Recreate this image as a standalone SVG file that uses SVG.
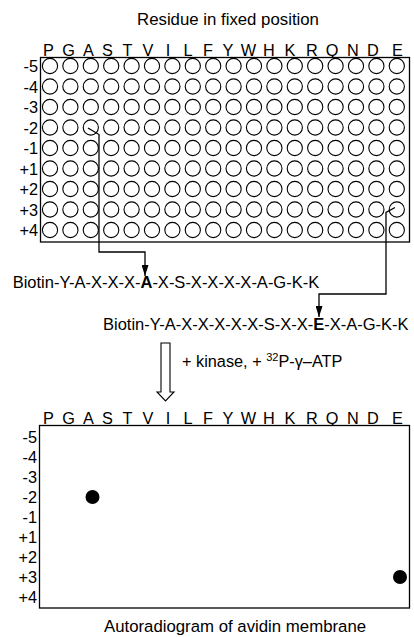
<svg xmlns="http://www.w3.org/2000/svg" xmlns:xlink="http://www.w3.org/1999/xlink" width="414" height="637" viewBox="0 0 414 637">
  <style>
    text { font-family: "Liberation Sans", Arial, sans-serif; fill: #000; }
    .title { font-size: 16.8px; text-anchor: middle; }
    .col { font-size: 16.3px; text-anchor: middle; }
    .row { font-size: 16.3px; text-anchor: end; }
    .pep { font-size: 16.5px; }
    .frame { fill: #fff; stroke: #000; stroke-width: 1.3; }
    .well { fill: #fff; stroke: #000; stroke-width: 1.1; }
    .wire { fill: none; stroke: #000; stroke-width: 1.3; }
    .spot { fill: #000; }
  </style>
  <defs>
    <marker id="head" markerUnits="userSpaceOnUse" markerWidth="11" markerHeight="7" refX="11" refY="3.5" orient="auto" viewBox="0 0 11 7">
      <path d="M0 0 L11 3.5 L0 7 Z" fill="#000"/>
    </marker>
    <g id="wellRow">
      <circle class="well" cx="50" cy="0" r="7.6"/>
      <circle class="well" cx="70.4" cy="0" r="7.6"/>
      <circle class="well" cx="90.8" cy="0" r="7.6"/>
      <circle class="well" cx="111.2" cy="0" r="7.6"/>
      <circle class="well" cx="131.6" cy="0" r="7.6"/>
      <circle class="well" cx="152" cy="0" r="7.6"/>
      <circle class="well" cx="172.4" cy="0" r="7.6"/>
      <circle class="well" cx="192.8" cy="0" r="7.6"/>
      <circle class="well" cx="213.2" cy="0" r="7.6"/>
      <circle class="well" cx="233.6" cy="0" r="7.6"/>
      <circle class="well" cx="254" cy="0" r="7.6"/>
      <circle class="well" cx="274.4" cy="0" r="7.6"/>
      <circle class="well" cx="294.8" cy="0" r="7.6"/>
      <circle class="well" cx="315.2" cy="0" r="7.6"/>
      <circle class="well" cx="335.6" cy="0" r="7.6"/>
      <circle class="well" cx="356" cy="0" r="7.6"/>
      <circle class="well" cx="376.4" cy="0" r="7.6"/>
      <circle class="well" cx="396.8" cy="0" r="7.6"/>
    </g>
    <g id="colLetters">
      <text class="col" x="48.5">P</text>
      <text class="col" x="68.5">G</text>
      <text class="col" x="88.5">A</text>
      <text class="col" x="107.5">S</text>
      <text class="col" x="127.5">T</text>
      <text class="col" x="148">V</text>
      <text class="col" x="168">I</text>
      <text class="col" x="188">L</text>
      <text class="col" x="208">F</text>
      <text class="col" x="228">Y</text>
      <text class="col" x="248.5">W</text>
      <text class="col" x="269">H</text>
      <text class="col" x="290">K</text>
      <text class="col" x="312">R</text>
      <text class="col" x="332">Q</text>
      <text class="col" x="353">N</text>
      <text class="col" x="373">D</text>
      <text class="col" x="397.5">E</text>
    </g>
  </defs>

  <!-- peptide library plate -->
  <g id="plate">
    <text class="title" x="228" y="25">Residue in fixed position</text>
    <use xlink:href="#colLetters" y="56"/>
    <rect class="frame" x="40.5" y="57.5" width="369" height="184.5"/>
    <text class="row" x="38" y="72">-5</text>
    <text class="row" x="38" y="92.5">-4</text>
    <text class="row" x="38" y="113">-3</text>
    <text class="row" x="38" y="133.5">-2</text>
    <text class="row" x="38" y="154">-1</text>
    <text class="row" x="38" y="174.5">+1</text>
    <text class="row" x="38" y="195">+2</text>
    <text class="row" x="38" y="215.5">+3</text>
    <text class="row" x="38" y="236">+4</text>
    <use xlink:href="#wellRow" y="66"/>
    <use xlink:href="#wellRow" y="86.5"/>
    <use xlink:href="#wellRow" y="107"/>
    <use xlink:href="#wellRow" y="127.5"/>
    <use xlink:href="#wellRow" y="148"/>
    <use xlink:href="#wellRow" y="168.5"/>
    <use xlink:href="#wellRow" y="189"/>
    <use xlink:href="#wellRow" y="209.5"/>
    <use xlink:href="#wellRow" y="230"/>
  </g>

  <!-- peptide sequences -->
  <g id="peptide-A">
    <text class="pep" x="12.7" y="288">Biotin-Y-A-X-X-X-<tspan font-weight="bold">A</tspan>-X-S-X-X-X-X-A-G-K-K</text>
  </g>
  <g id="peptide-E">
    <text class="pep" x="103" y="330">Biotin-Y-A-X-X-X-X-X-S-X-X-<tspan font-weight="bold">E</tspan>-X-A-G-K-K</text>
  </g>

  <!-- connectors -->
  <g id="connectors">
    <path class="wire" d="M88 128 L99 134.5 L99 252 L145 252 L145 276" marker-end="url(#head)"/>
    <path class="wire" d="M395 207.5 L386 212.5 L386 294 L319 294 L319 317" marker-end="url(#head)"/>
    <path d="M161 343 L170 343 L170 392 L174 392 L165.5 401 L157 392 L161 392 Z" fill="#fff" stroke="#000" stroke-width="1.1"/>
    <text x="182" y="367" style="font-size:16.3px">+ kinase, + <tspan dy="-6" style="font-size:11px">32</tspan><tspan dy="6">P-γ–ATP</tspan></text>
  </g>

  <!-- autoradiogram membrane -->
  <g id="membrane">
    <use xlink:href="#colLetters" y="424"/>
    <rect class="frame" x="39.5" y="425.5" width="370" height="182.5"/>
    <text class="row" x="37" y="442.5">-5</text>
    <text class="row" x="37" y="462.5">-4</text>
    <text class="row" x="37" y="482.5">-3</text>
    <text class="row" x="37" y="502.5">-2</text>
    <text class="row" x="37" y="522.5">-1</text>
    <text class="row" x="37" y="542.5">+1</text>
    <text class="row" x="37" y="562.5">+2</text>
    <text class="row" x="37" y="582.5">+3</text>
    <text class="row" x="37" y="602.5">+4</text>
    <circle class="spot" cx="92.5" cy="497" r="7"/>
    <circle class="spot" cx="400" cy="577" r="7"/>
    <text class="title" x="235" y="632">Autoradiogram of avidin membrane</text>
  </g>
</svg>
